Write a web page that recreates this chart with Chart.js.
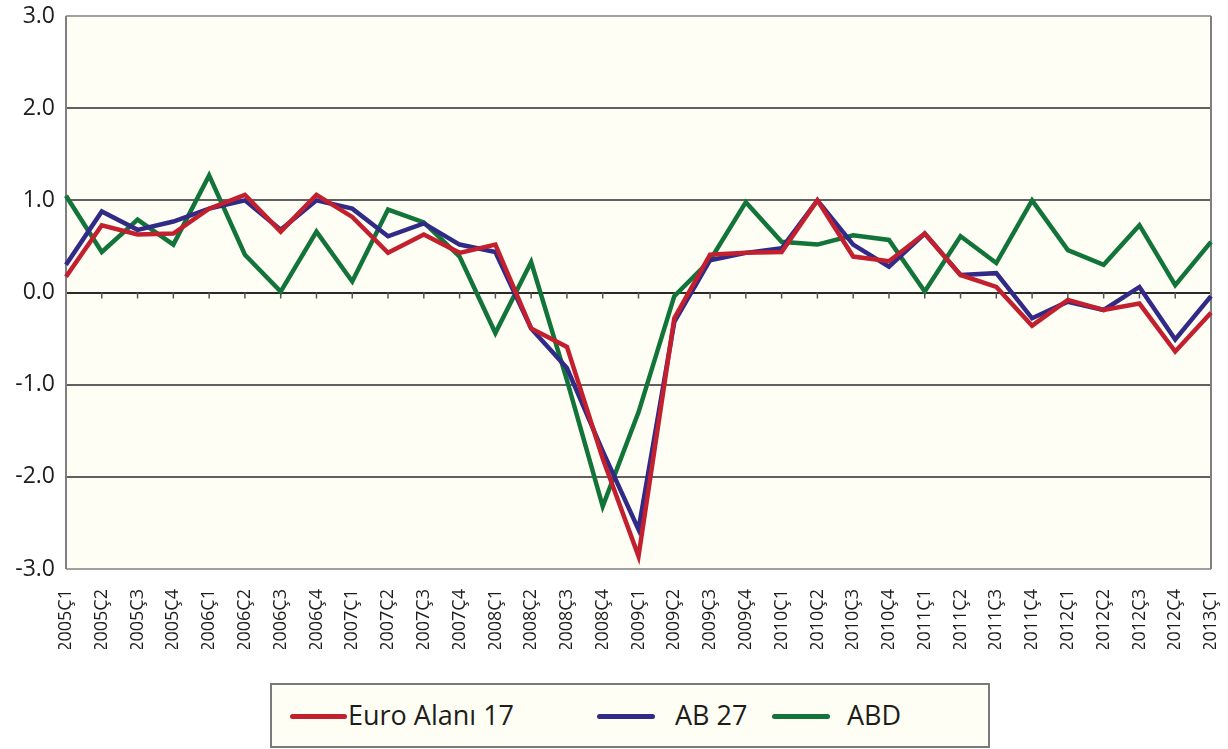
<!DOCTYPE html>
<html>
<head>
<meta charset="utf-8">
<script src="https://cdn.jsdelivr.net/npm/chart.js@4.4.1/dist/chart.umd.min.js"></script>
<style>
  html, body { margin: 0; padding: 0; background: #fff; }
  #wrap { position: relative; width: 1228px; height: 749px; font-family: "Open Sans", sans-serif; }
  #myLineChart { position: absolute; left: 0; top: 0; }
  .legend-box { position: absolute; left: 270px; top: 683px; width: 720px; height: 65px; box-sizing: border-box;
    border: 2px solid #7a7a7a; background: #fefef4; }
  .swatch { position: absolute; height: 5px; border-radius: 3px; top: 714px; }
  .ltext { position: absolute; top: 701px; font-size: 27px; line-height: 27px; color: #1d1d1b; white-space: nowrap; }
</style>
</head>
<body>
<div id="wrap">
  <canvas id="myLineChart" width="1228" height="749"></canvas>
  <div class="legend-box"></div>
  <div class="swatch" style="left:290px;width:57px;background:#c2202f"></div>
  <div class="ltext" style="left:348px">Euro Alanı 17</div>
  <div class="swatch" style="left:597px;width:58px;background:#312a87"></div>
  <div class="ltext" style="left:675px">AB 27</div>
  <div class="swatch" style="left:772px;width:58px;background:#13743a"></div>
  <div class="ltext" style="left:847px">ABD</div>
</div>
<script>
const quarters = ['2005Ç1','2005Ç2','2005Ç3','2005Ç4','2006Ç1','2006Ç2','2006Ç3','2006Ç4',
  '2007Ç1','2007Ç2','2007Ç3','2007Ç4','2008Ç1','2008Ç2','2008Ç3','2008Ç4',
  '2009Ç1','2009Ç2','2009Ç3','2009Ç4','2010Ç1','2010Ç2','2010Ç3','2010Ç4',
  '2011Ç1','2011Ç2','2011Ç3','2011Ç4','2012Ç1','2012Ç2','2012Ç3','2012Ç4','2013Ç1'];

const euroArea17 = [0.17, 0.73, 0.63, 0.64, 0.91, 1.06, 0.66, 1.06, 0.82, 0.43, 0.63, 0.43, 0.52, -0.39, -0.59, -1.80,
  -2.86, -0.28, 0.41, 0.43, 0.44, 1.00, 0.39, 0.34, 0.64, 0.19, 0.06, -0.36, -0.08, -0.19, -0.12, -0.64, -0.22];
const eu27 = [0.30, 0.88, 0.68, 0.77, 0.91, 1.00, 0.68, 1.00, 0.91, 0.61, 0.75, 0.52, 0.44, -0.39, -0.82, -1.72,
  -2.57, -0.32, 0.35, 0.43, 0.48, 1.00, 0.52, 0.28, 0.64, 0.19, 0.21, -0.28, -0.10, -0.19, 0.06, -0.51, -0.04];
const usa = [1.05, 0.44, 0.79, 0.52, 1.27, 0.41, 0.01, 0.66, 0.12, 0.90, 0.76, 0.39, -0.44, 0.33, -0.95, -2.32,
  -1.30, -0.04, 0.35, 0.98, 0.55, 0.52, 0.62, 0.57, 0.01, 0.61, 0.32, 1.00, 0.46, 0.30, 0.73, 0.08, 0.55];

const yTicks = [-3, -2, -1, 0, 1, 2, 3];

// plot background, frame and the little ticks on the zero line
const plotDecor = {
  id: 'plotDecor',
  beforeDraw(chart) {
    const { ctx, chartArea: a } = chart;
    ctx.save();
    ctx.fillStyle = '#fefef4';
    ctx.fillRect(a.left, a.top, a.right - a.left, a.bottom - a.top);
    ctx.restore();
  },
  beforeDatasetsDraw(chart) {
    const { ctx, chartArea: a, scales } = chart;
    const y0 = scales.y.getPixelForValue(0);
    ctx.save();
    ctx.strokeStyle = '#555';
    ctx.lineWidth = 1.5;
    for (let i = 1; i < quarters.length; i++) {
      const x = scales.x.getPixelForValue(i);
      ctx.beginPath();
      ctx.moveTo(x, y0);
      ctx.lineTo(x, y0 + 6);
      ctx.stroke();
    }
    ctx.strokeStyle = '#7f7f7f';
    ctx.lineWidth = 2;
    ctx.beginPath();
    ctx.moveTo(a.left, a.top);
    ctx.lineTo(a.left, a.bottom);
    ctx.moveTo(a.right, a.top);
    ctx.lineTo(a.right, a.bottom);
    ctx.stroke();
    ctx.restore();
  }
};

const ctx = document.getElementById('myLineChart').getContext('2d');

new Chart(ctx, {
  type: 'line',
  data: {
    labels: quarters,
    datasets: [
      { label: 'Euro Alanı 17', data: euroArea17, borderColor: '#c2202f', backgroundColor: '#c2202f' },
      { label: 'AB 27', data: eu27, borderColor: '#312a87', backgroundColor: '#312a87' },
      { label: 'ABD', data: usa, borderColor: '#13743a', backgroundColor: '#13743a' }
    ]
  },
  options: {
    responsive: false,
    animation: false,
    layout: { padding: { left: 0, right: 17, top: 16, bottom: 100 } },
    elements: {
      line: { borderWidth: 4.5, tension: 0, borderJoinStyle: 'miter', borderCapStyle: 'butt' },
      point: { radius: 0 }
    },
    plugins: {
      legend: { display: false },
      tooltip: { enabled: false }
    },
    scales: {
      x: {
        offset: false,
        grid: { display: false },
        border: { display: false },
        ticks: {
          autoSkip: false,
          maxRotation: 90,
          minRotation: 90,
          padding: 12,
          color: '#1d1d1b',
          font: { family: 'Open Sans', size: 18 }
        },
        afterFit(scale) {
          scale.height = 80;
          scale.paddingLeft = 0;
          scale.paddingRight = 0;
        }
      },
      y: {
        min: -3,
        max: 3,
        afterBuildTicks(scale) { scale.ticks = yTicks.map(v => ({ value: v })); },
        grid: {
          drawTicks: false,
          lineWidth: 2,
          color(c) {
            const v = c.tick.value;
            if (v === 0) return '#2a2a2a';
            if (Math.abs(v) === 3) return '#a0a0a0';
            return '#606060';
          }
        },
        border: { display: false },
        ticks: {
          padding: 11,
          color: '#1d1d1b',
          font: { family: 'Open Sans', size: 23 },
          callback: v => v.toFixed(1)
        },
        afterFit(scale) {
          scale.width = 66;
          scale.paddingTop = 0;
          scale.paddingBottom = 0;
        }
      }
    }
  },
  plugins: [plotDecor]
});
</script>
</body>
</html>
